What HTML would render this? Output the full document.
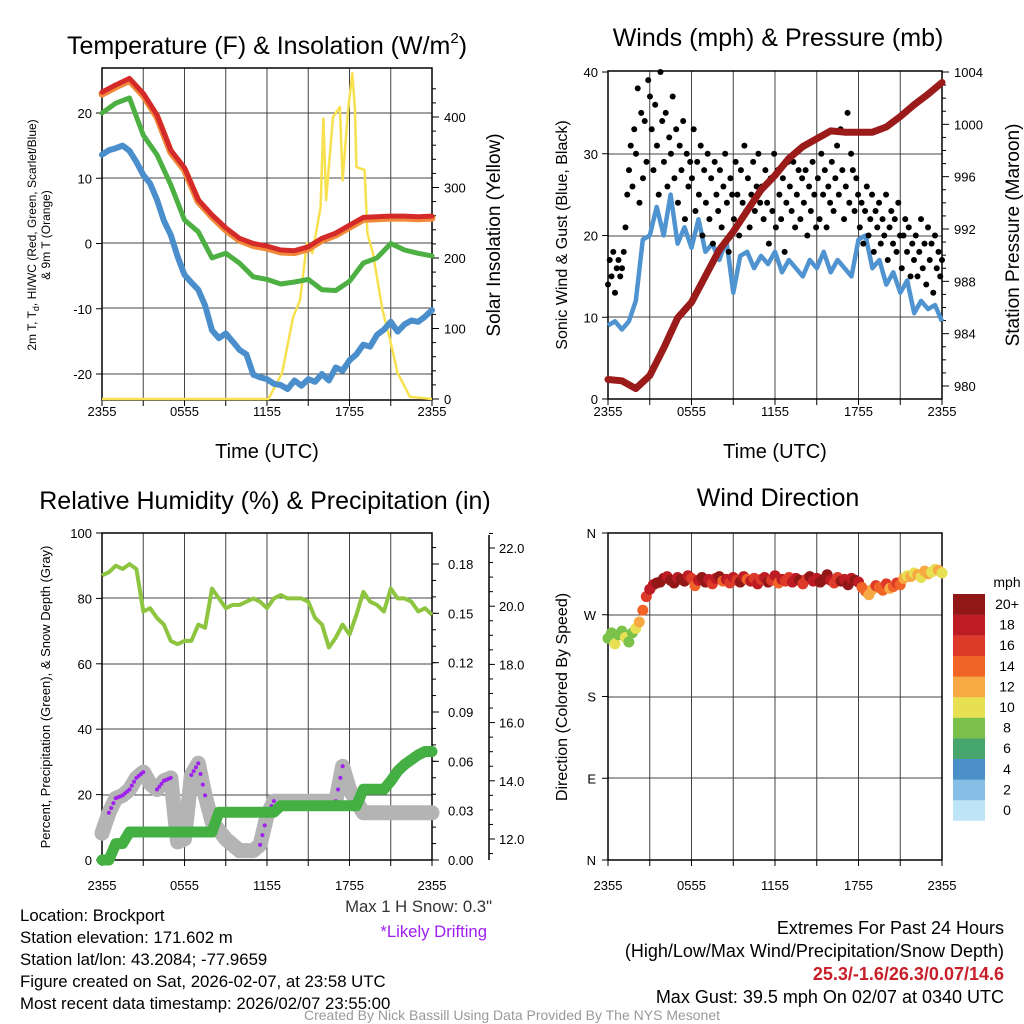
<!DOCTYPE html>
<html><head><meta charset="utf-8"><style>
html,body{margin:0;padding:0;background:#fff}
svg{display:block;font-family:"Liberation Sans",Arial,sans-serif}
</style></head><body>
<svg id="svg" width="1024" height="1024" viewBox="0 0 1024 1024" xmlns="http://www.w3.org/2000/svg">
<g id="g1"></g>
<g id="g2"></g>
<g id="g3"></g>
<g id="g4"></g>

<text x="267" y="54" font-size="25" text-anchor="middle">Temperature (F) &amp; Insolation (W/m<tspan font-size="15" dy="-11">2</tspan><tspan dy="11">)</tspan></text>
<text x="778" y="46" font-size="25" text-anchor="middle">Winds (mph) &amp; Pressure (mb)</text>
<text x="265" y="509" font-size="25" text-anchor="middle">Relative Humidity (%) &amp; Precipitation (in)</text>
<text x="778" y="506" font-size="25" text-anchor="middle">Wind Direction</text>

<text x="267" y="458" font-size="20" text-anchor="middle">Time (UTC)</text>
<text x="775" y="458" font-size="20" text-anchor="middle">Time (UTC)</text>

<text transform="translate(36,235) rotate(-90)" font-size="12" text-anchor="middle">2m T, T<tspan font-size="9" dy="3">d</tspan><tspan dy="-3">, HI/WC (Red, Green, Scarlet/Blue)</tspan></text>
<text transform="translate(50,235) rotate(-90)" font-size="12" text-anchor="middle">&amp; 9m T (Orange)</text>
<text transform="translate(500,235) rotate(-90)" font-size="19" text-anchor="middle">Solar Insolation (Yellow)</text>
<text transform="translate(567,235) rotate(-90)" font-size="16" text-anchor="middle">Sonic Wind &amp; Gust (Blue, Black)</text>
<text transform="translate(1019,235) rotate(-90)" font-size="19" text-anchor="middle">Station Pressure (Maroon)</text>
<text transform="translate(50,697) rotate(-90)" font-size="13" text-anchor="middle">Percent, Precipitation (Green), &amp; Snow Depth (Gray)</text>
<text transform="translate(567,697) rotate(-90)" font-size="16" text-anchor="middle">Direction (Colored By Speed)</text>

<g font-size="16.8">
<text x="20" y="921">Location: Brockport</text>
<text x="20" y="943">Station elevation: 171.602 m</text>
<text x="20" y="965">Station lat/lon: 43.2084; -77.9659</text>
<text x="20" y="987">Figure created on Sat, 2026-02-07, at 23:58 UTC</text>
<text x="20" y="1009">Most recent data timestamp: 2026/02/07 23:55:00</text>
</g>
<text x="492" y="912" font-size="16.7" text-anchor="end" fill="#333">Max 1 H Snow: 0.3"</text>
<text x="487" y="937" font-size="16.7" text-anchor="end" fill="#a020f0">*Likely Drifting</text>
<g font-size="18" text-anchor="end">
<text x="1004" y="934">Extremes For Past 24 Hours</text>
<text x="1004" y="957">(High/Low/Max Wind/Precipitation/Snow Depth)</text>
<text x="1004" y="980" font-weight="bold" fill="#c8202a">25.3/-1.6/26.3/0.07/14.6</text>
<text x="1004" y="1003">Max Gust: 39.5 mph On 02/07 at 0340 UTC</text>
</g>
<text x="512" y="1020" font-size="14" text-anchor="middle" fill="#999">Created By Nick Bassill Using Data Provided By The NYS Mesonet</text>
</svg>
<script>
// ---------- DATA ----------
const xTickLabels = ["2355","0555","1155","1755","2355"];
const tempTicks = [20,10,0,-10,-20];
const solarTicks = [400,300,200,100,0];
const windTicks = [40,30,20,10,0];
const pressTicks = [1004,1000,996,992,988,984,980];
const rhTicks = [100,80,60,40,20,0];
const precipTicks = ["0.00","0.03","0.06","0.09","0.12","0.15","0.18"];
const snowTicks = ["12.0","14.0","16.0","18.0","20.0","22.0"];
const dirTickLabels = ["N","E","S","W","N"];
const speedBins = ["0","2","4","6","8","10","12","14","16","18","20+"];

const temp2m = [23.2,24.3,25.3,23.0,19.7,14.3,11.6,6.7,4.4,2.4,0.8,0.0,-0.4,-1.0,-1.1,-0.5,0.8,1.6,2.8,4.0,4.1,4.2,4.2,4.1,4.2];
const temp9m = [22.9,24.0,25.0,22.7,19.4,14.0,11.3,6.4,4.1,2.1,0.5,-0.3,-0.7,-1.3,-1.4,-0.8,0.5,1.3,2.5,3.7,3.8,3.9,3.9,3.8,3.9];
const windChill = [20,21.5,22.3,16.6,13.6,9,3.6,1.8,-2.2,-1.5,-3,-5.1,-5.5,-6.2,-5.9,-5.5,-7.1,-7.2,-5.8,-3,-2.2,0,-1.0,-1.5,-1.9];
const dewpoint = [13.6,14.3,14.6,15.0,14.2,12.5,10.5,9.2,6.7,3.5,1.3,-2.0,-4.8,-6.0,-7.1,-9.5,-13.3,-14.5,-13.8,-15.0,-16.3,-17.0,-20.1,-20.5,-20.8,-21.5,-21.7,-22.3,-21.0,-21.8,-20.8,-21.2,-20.0,-21.0,-19.0,-19.5,-17.9,-17.0,-15.5,-15.8,-14.0,-13.2,-12.0,-13.5,-12.4,-11.8,-12.0,-11.2,-10.2];
const solarHours = [0,12.1,13.1,13.9,14.4,14.9,15.3,15.9,16.1,16.3,16.8,17.3,17.5,17.9,18.2,18.4,18.5,19.1,19.3,19.7,20.4,20.9,21.5,22.4,24];
const solarValues = [0,0,37,116,140,221,207,272,398,282,400,414,310,410,462,410,329,325,235,207,126,88,37,3,0];

const pressure = [980.5,980.4,979.8,980.8,982.9,985.2,986.4,988.4,990.4,991.8,993.4,995.0,996.1,997.4,998.3,998.9,999.5,999.4,999.4,999.4,999.8,1000.6,1001.5,1002.3,1003.2];
const sustainedWind = [9,9.5,8.5,9.5,12,19.5,20,23.5,20,25,19,21,18.5,22,18,19,17,19.5,13,17.5,18,16,17.5,16.5,18,15.5,17,16,15,17,16,18,15.5,17,16,15,19.5,20,16,17,14,15.5,13,14.5,10.5,12,11,11.5,9.5];
const gusts = [14,17,15,18,13,16,17,15, 16,18,21,25,28,31,26,33, 30,38,24,35,27,34,29,39, 37,33,28,36,31,25,40,34,
 29,35,26,32,30,37,27,33, 24,31,28,34,22,30,26,29, 27,33,23,29,25,31,20,28, 24,30,22,27,19,29,25,23,
 28,21,26,30,24,18,27,25, 22,29,25,20,28,24,31,23, 27,21,25,29,23,26,30,24, 26,22,28,24,19,27,23,30,
 21,28,25,22,27,18,24,29, 26,23,29,21,25,28,22,27, 24,28,20,26,23,29,25,21, 27,22,30,25,28,21,26,24,
 29,23,27,31,25,33,28,22, 26,35,24,30,28,23,27,25, 21,24,19,23,26,20,22,25, 18,23,21,24,19,22,20,25,
 17,21,23,19,22,18,24,20, 16,20,22,18,21,15,19,17, 20,15,18,22,16,19,14,21, 17,19,13,20,16,18,15,17];

const relHumidity = [87,88,90,89,90.5,89,76,77,74,72,67,66,67,67,72,71,83,80,77,78,78,79,80,79,77,80,81,80,80,80,79,74,72,65,68,72,69,75,82,79,78,76,83,80,80,79,76,77,75];
const precip = [0,0,0.01,0.01,0.017,0.017,0.017,0.017,0.017,0.017,0.017,0.017,0.017,0.017,0.017,0.017,0.017,0.029,0.029,0.029,0.029,0.029,0.029,0.029,0.029,0.029,0.033,0.033,0.033,0.033,0.033,0.033,0.033,0.033,0.033,0.033,0.033,0.033,0.043,0.043,0.043,0.043,0.048,0.054,0.058,0.061,0.064,0.066,0.066];
const snowDepth = [12.2,12.9,13.4,13.5,13.7,14.1,14.3,13.9,13.7,14.0,14.1,11.9,12.0,14.2,14.6,13.5,12.6,12.3,12.0,11.8,11.6,11.6,11.6,11.8,12.8,13.3,13.3,13.3,13.3,13.3,13.3,13.3,13.3,13.3,13.3,14.5,13.7,13.3,12.9,12.9,12.9,12.9,12.9,12.9,12.9,12.9,12.9,12.9,12.9];
const driftFlag = [0,1,1,1,1,1,1,0,1,1,1,0,0,1,1,1,0,0,0,0,0,0,0,1,1,1,0,0,0,0,0,0,0,0,1,1,0,0,0,0,0,0,0,0,0,0,0,0,0];

const windDir = [244,250,238,248,252,245,240,250,255,262,275,290,298,303,305,
306,310,312,308,305,311,309,307,313,310,302,308,311,306,309,304,310,312,307,309,305,311,308,306,312,309,307,310,304,309,311,306,308,313,305,309,307,311,306,310,308,304,309,312,307,310,306,309,314,308,305,311,307,309,303,310,308,306,
300,296,292,298,302,300,297,304,299,301,305,303,310,313,312,316,314,311,318,315,317,320,319,316];
const windSpeed = [9,8,10,9,8,10,9,8,10,12,14,17,18,19,20,
20,21,19,22,20,18,21,20,19,17,15,18,20,21,19,16,18,20,14,19,17,18,16,20,19,15,18,17,19,16,18,20,17,19,15,18,16,17,19,18,20,17,16,21,19,18,20,22,21,19,17,16,20,18,21,19,20,18,
14,15,13,12,16,15,14,17,13,15,16,14,12,11,13,10,12,11,12,13,10,11,12,11];
const speedColors = ["#bde5f6","#86bfe6","#4a8fc8","#47a56e","#7cc24a","#e6e052","#f7aa44","#f06428","#de3a2a","#be1c24","#921818"];

// ---------- HELPERS ----------
const NS="http://www.w3.org/2000/svg";
function mk(parent,tag,attrs){const e=document.createElementNS(NS,tag);for(const k in attrs)e.setAttribute(k,attrs[k]);parent.appendChild(e);return e;}
function lin(d0,d1,r0,r1){return v=>r0+(v-d0)*(r1-r0)/(d1-d0);}
function idxTime(i,n){return i*24/(n-1);}
function pathFrom(xs,ys){return xs.map((x,i)=>(i?"L":"M")+x.toFixed(1)+","+ys[i].toFixed(1)).join("");}
function frame(g,L,T,R,B,hLines){
  for(let h=0;h<=24;h+=3){const x=L+(R-L)*h/24;
    const ln=mk(g,"line",{x1:x,y1:T,x2:x,y2:B,stroke:"#444","stroke-width":1});
    
    const tk=mk(g,"line",{x1:x,y1:B,x2:x,y2:B+6,stroke:"#000","stroke-width":1});
    }
  hLines.forEach(y=>{const ln=mk(g,"line",{x1:L,y1:y,x2:R,y2:y,stroke:"#444","stroke-width":1});
    });
  const r=mk(g,"rect",{x:L,y:T,width:R-L,height:B-T,fill:"none",stroke:"#000","stroke-width":1.5});
  
}
function xLabels(g,L,R,y){xTickLabels.forEach((s,i)=>{const t=mk(g,"text",{x:L+(R-L)*i/4,y:y,"font-size":13,"text-anchor":"middle"});t.textContent=s;
  });}
function yLabel(g,x,y,s,anchor,size){const t=mk(g,"text",{x:x,y:y+5,"font-size":size||13,"text-anchor":anchor});t.textContent=s;
  return t;}
function tick(g,x1,y,x2){const l=mk(g,"line",{x1:x1,y1:y,x2:x2,y2:y,stroke:"#000","stroke-width":1});
  }

// ---------- PANEL 1 ----------
(function(){
  const g=document.getElementById("g1");
  const L=102,R=432,T=68,B=400;
  const X=lin(0,24,L,R), Y=lin(-20,20,374,113), YS=lin(0,400,399,117);
  frame(g,L,T,R,B,[113,178,243,308,374]);
  xLabels(g,L,R,416);
  tempTicks.forEach(v=>{tick(g,L-6,Y(v),L);yLabel(g,L-10,Y(v),String(v),"end");});
  solarTicks.forEach(v=>{tick(g,R,YS(v),R+7);yLabel(g,R+12,YS(v),String(v),"start");});
  for(let v=20;v<460;v+=20){if(v%100)tick(g,R,YS(v),R+4);}
  const ys=mk(g,"path",{d:pathFrom(solarHours.map(X),solarValues.map(YS)),fill:"none",stroke:"#f7e14e","stroke-width":2.5,"stroke-linejoin":"round"});
  
  const series=[[temp9m,"#f08a3a","nine-meter-temp-line",7],[temp2m,"#d42a2a","two-meter-temp-line",5],[windChill,"#4cb043","wind-chill-line",5],[dewpoint,"#4a8fcc","dewpoint-line",6]];
  series.forEach(s=>{const d=s[0];const p=mk(g,"path",{d:pathFrom(d.map((v,i)=>X(idxTime(i,d.length))),d.map(Y)),fill:"none",stroke:s[1],"stroke-width":s[3],"stroke-linejoin":"round","stroke-linecap":"round"});
    });
})();

// ---------- PANEL 2 ----------
(function(){
  const g=document.getElementById("g2");
  const L=608,R=942,T=71,B=399;
  const X=lin(0,24,L,R), Y=lin(0,40,399,72), YP=lin(980,1004,386,72);
  frame(g,L,T,R,B,[154,236,317]);
  xLabels(g,L,R,416);
  windTicks.forEach(v=>{tick(g,L-6,Y(v),L);yLabel(g,L-10,Y(v),String(v),"end");});
  pressTicks.forEach(v=>{tick(g,R,YP(v),R+7);yLabel(g,R+12,YP(v),String(v),"start");});
  for(let v=981;v<1004;v++){if(v%4)tick(g,R,YP(v),R+4);}
  const sw=mk(g,"path",{d:pathFrom(sustainedWind.map((v,i)=>X(idxTime(i,sustainedWind.length))),sustainedWind.map(Y)),fill:"none",stroke:"#4f94d0","stroke-width":4.5,"stroke-linejoin":"round"});
  
  gusts.forEach((v,i)=>{const c=mk(g,"circle",{cx:X(idxTime(i,gusts.length)),cy:Y(v),r:3,fill:"#000"});
    });
  const pp=mk(g,"path",{d:pathFrom(pressure.map((v,i)=>X(idxTime(i,pressure.length))),pressure.map(YP)),fill:"none",stroke:"#9b1a1a","stroke-width":7,"stroke-linejoin":"round","stroke-linecap":"round"});
  
})();

// ---------- PANEL 3 ----------
(function(){
  const g=document.getElementById("g3");
  const L=102,R=432,T=533,B=860;
  const X=lin(0,24,L,R), Y=lin(0,100,860,533), YPr=lin(0,0.18,860,564), YSn=lin(12,22,839,548);
  frame(g,L,T,R,B,[598,664,729,795]);
  xLabels(g,L,R,890);
  rhTicks.forEach(v=>{tick(g,L-6,Y(v),L);yLabel(g,L-10,Y(v),String(v),"end");});
  precipTicks.forEach(s=>{const y=YPr(parseFloat(s));tick(g,R,y,R+7);yLabel(g,R+16,y,s,"start");});
  for(let v=0.01;v<0.2;v+=0.01){const y=YPr(v);if(y>534)tick(g,R,y,R+4);}
  const ax=mk(g,"line",{x1:489,y1:535,x2:489,y2:860,stroke:"#000","stroke-width":1.5});
  
  snowTicks.forEach(s=>{const y=YSn(parseFloat(s));tick(g,489,y,495);yLabel(g,499,y,s,"start");});
  for(let v=11.5;v<22.6;v+=0.5){if(v%2)tick(g,489,YSn(v),493);}
  const rh=mk(g,"path",{d:pathFrom(relHumidity.map((v,i)=>X(idxTime(i,relHumidity.length))),relHumidity.map(Y)),fill:"none",stroke:"#8dc540","stroke-width":4,"stroke-linejoin":"round"});
  
  const sn=mk(g,"path",{d:pathFrom(snowDepth.map((v,i)=>X(idxTime(i,snowDepth.length))),snowDepth.map(YSn)),fill:"none",stroke:"#b4b4b4","stroke-width":15,"stroke-linejoin":"round","stroke-linecap":"round"});
  
  const n=snowDepth.length;
  for(let i=0;i<n;i++){if(!driftFlag[i])continue;
    const x=X(idxTime(i,n)),y=YSn(snowDepth[i]);
    const c=mk(g,"circle",{cx:x,cy:y,r:2,fill:"#a020f0"});
    if(i+1<n&&driftFlag[i+1]){const x2=X(idxTime(i+1,n)),y2=YSn(snowDepth[i+1]);
      for(let k=1;k<3;k++){const c2=mk(g,"circle",{cx:x+(x2-x)*k/3,cy:y+(y2-y)*k/3,r:2,fill:"#a020f0"});
        }}}
  const pr=mk(g,"path",{d:pathFrom(precip.map((v,i)=>X(idxTime(i,precip.length))),precip.map(YPr)),fill:"none",stroke:"#44b044","stroke-width":11,"stroke-linejoin":"round","stroke-linecap":"round"});
  
})();

// ---------- PANEL 4 ----------
(function(){
  const g=document.getElementById("g4");
  const L=608,R=942,T=533,B=860;
  const X=lin(0,24,L,R), Y=lin(0,360,860,533);
  frame(g,L,T,R,B,[615,697,778]);
  xLabels(g,L,R,890);
  dirTickLabels.forEach((s,i)=>{const y=Y(i*90);tick(g,L-6,y,L);yLabel(g,L-12,y,s,"end");});
  windDir.forEach((v,i)=>{const sp=windSpeed[i];const ci=Math.min(10,Math.floor(sp/2));
    const c=mk(g,"circle",{cx:X(idxTime(i,windDir.length)),cy:Y(v),r:5.5,fill:speedColors[ci]});
    });
  const t=mk(g,"text",{x:1007,y:587,"font-size":14,"text-anchor":"middle"});t.textContent="mph";
  
  speedBins.forEach((s,i)=>{const y=594+(10-i)*20.6;
    const r=mk(g,"rect",{x:953,y:y,width:32,height:20.8,fill:speedColors[i]});
    
    const tx=mk(g,"text",{x:1007,y:y+15,"font-size":14,"text-anchor":"middle"});tx.textContent=s;
    });
})();
</script>
</body></html>
